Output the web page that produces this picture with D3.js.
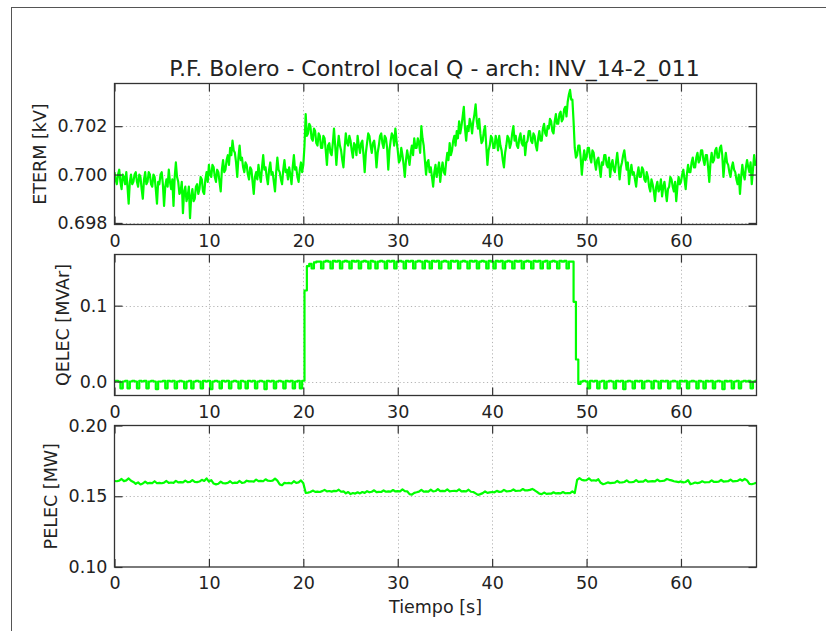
<!DOCTYPE html>
<html>
<head>
<meta charset="utf-8">
<script src="https://cdn.jsdelivr.net/npm/d3@7"></script>
<style>
  body { margin: 0; background: #ffffff; }
  svg { display: block; }
</style>
</head>
<body>
<svg id="fig" width="826" height="631"></svg>
<script>
// ---- Recorded signals, t = 0 … 68 s ----
const etermStep = 0.125; // seconds between ETERM samples
const powerStep = 0.25;  // seconds between QELEC / PELEC samples

// Terminal voltage [kV]
const eterm = [
  0.7001, 0.6998, 0.6996, 0.7000, 0.7002, 0.6997, 0.6994, 0.7000,
  0.6999, 0.6996, 0.7001, 0.6995, 0.6988, 0.6997, 0.7000, 0.6996,
  0.6997, 0.7000, 0.7001, 0.6997, 0.6995, 0.7000, 0.6999, 0.6994,
  0.6990, 0.6998, 0.7001, 0.6996, 0.6997, 0.7001, 0.7000, 0.6996,
  0.6995, 0.7000, 0.6999, 0.6994, 0.6988, 0.6997, 0.6996, 0.7000,
  0.7001, 0.6996, 0.6987, 0.6995, 0.6998, 0.6995, 0.7002, 0.6997,
  0.6994, 0.6998, 0.6987, 0.6999, 0.7005, 0.6999, 0.6997, 0.6992,
  0.6993, 0.6997, 0.6984, 0.6993, 0.6995, 0.6989, 0.6991, 0.6995,
  0.6982, 0.6991, 0.6994, 0.6989, 0.6990, 0.6995, 0.6996, 0.6992,
  0.6994, 0.6999, 0.6998, 0.6993, 0.6992, 0.6998, 0.7001, 0.6997,
  0.7004, 0.7000, 0.6999, 0.7004, 0.7003, 0.6999, 0.6997, 0.7002,
  0.7001, 0.6997, 0.6993, 0.7002, 0.7006, 0.7001, 0.7002, 0.7006,
  0.7008, 0.7004, 0.7011, 0.7008, 0.7014, 0.7010, 0.7009, 0.7005,
  0.6999, 0.7007, 0.7012, 0.7006, 0.7007, 0.7003, 0.7001, 0.7005,
  0.7004, 0.7000, 0.6998, 0.7003, 0.7002, 0.6997, 0.6992, 0.6999,
  0.7001, 0.6998, 0.7004, 0.7000, 0.6997, 0.7003, 0.7008, 0.7002,
  0.7003, 0.6999, 0.6996, 0.7002, 0.7005, 0.7000, 0.7001, 0.6997,
  0.6993, 0.7001, 0.7007, 0.7002, 0.7001, 0.6998, 0.6996, 0.7002,
  0.7006, 0.7001, 0.7002, 0.6998, 0.7003, 0.7000, 0.6996, 0.7003,
  0.7008, 0.7002, 0.7003, 0.6999, 0.6997, 0.7002, 0.7005, 0.7001,
  0.7004, 0.7012, 0.7025, 0.7016, 0.7017, 0.7021, 0.7020, 0.7015,
  0.7014, 0.7019, 0.7018, 0.7013, 0.7012, 0.7017, 0.7016, 0.7011,
  0.7011, 0.7016, 0.7015, 0.7010, 0.7004, 0.7012, 0.7013, 0.7009,
  0.7008, 0.7013, 0.7019, 0.7012, 0.7004, 0.7011, 0.7016, 0.7012,
  0.7010, 0.7006, 0.7003, 0.7011, 0.7017, 0.7013, 0.7012, 0.7016,
  0.7014, 0.7010, 0.7007, 0.7013, 0.7012, 0.7008, 0.7016, 0.7012,
  0.7009, 0.7013, 0.7014, 0.7008, 0.7001, 0.7009, 0.7013, 0.7017,
  0.7016, 0.7012, 0.7009, 0.7013, 0.7014, 0.7010, 0.7003, 0.7009,
  0.7012, 0.7016, 0.7017, 0.7013, 0.7011, 0.7016, 0.7015, 0.7011,
  0.7002, 0.7010, 0.7014, 0.7017, 0.7016, 0.7012, 0.7019, 0.7014,
  0.7010, 0.7005, 0.7006, 0.7011, 0.7008, 0.7004, 0.6999, 0.7006,
  0.7010, 0.7007, 0.7004, 0.7009, 0.7012, 0.7008, 0.7015, 0.7011,
  0.7011, 0.7015, 0.7013, 0.7009, 0.7020, 0.7015, 0.7012, 0.7006,
  0.7000, 0.7005, 0.7006, 0.7001, 0.7003, 0.6999, 0.6995, 0.7001,
  0.7004, 0.6999, 0.7002, 0.7005, 0.6997, 0.7002, 0.7005, 0.7001,
  0.7000, 0.7005, 0.7009, 0.7006, 0.7013, 0.7008, 0.7010, 0.7014,
  0.7016, 0.7012, 0.7018, 0.7015, 0.7022, 0.7017, 0.7020, 0.7024,
  0.7028, 0.7019, 0.7014, 0.7020, 0.7018, 0.7023, 0.7021, 0.7017,
  0.7022, 0.7025, 0.7029, 0.7022, 0.7019, 0.7023, 0.7017, 0.7013,
  0.7014, 0.7018, 0.7020, 0.7012, 0.7004, 0.7010, 0.7012, 0.7016,
  0.7015, 0.7011, 0.7011, 0.7016, 0.7014, 0.7010, 0.7016, 0.7012,
  0.7010, 0.7006, 0.7003, 0.7009, 0.7012, 0.7016, 0.7015, 0.7011,
  0.7013, 0.7017, 0.7020, 0.7014, 0.7016, 0.7012, 0.7011, 0.7015,
  0.7017, 0.7013, 0.7012, 0.7016, 0.7008, 0.7013, 0.7014, 0.7018,
  0.7018, 0.7014, 0.7013, 0.7017, 0.7016, 0.7012, 0.7010, 0.7015,
  0.7018, 0.7014, 0.7014, 0.7019, 0.7021, 0.7017, 0.7016, 0.7020,
  0.7019, 0.7023, 0.7022, 0.7018, 0.7017, 0.7022, 0.7025, 0.7021,
  0.7021, 0.7025, 0.7026, 0.7022, 0.7023, 0.7027, 0.7028, 0.7024,
  0.7030, 0.7033, 0.7035, 0.7031, 0.7031, 0.7022, 0.7011, 0.7007,
  0.7008, 0.7012, 0.7012, 0.7007, 0.7000, 0.7006, 0.7010, 0.7006,
  0.7007, 0.7011, 0.7011, 0.7007, 0.7005, 0.7010, 0.7009, 0.7005,
  0.7002, 0.7006, 0.7007, 0.7003, 0.6999, 0.7005, 0.7004, 0.7008,
  0.7008, 0.7004, 0.7003, 0.7007, 0.6999, 0.7004, 0.7006, 0.7002,
  0.7001, 0.7005, 0.7009, 0.7004, 0.6998, 0.7003, 0.7005, 0.7008,
  0.7010, 0.7006, 0.7002, 0.7005, 0.6996, 0.7001, 0.7004, 0.7000,
  0.7001, 0.6998, 0.6995, 0.7000, 0.7003, 0.6999, 0.6999, 0.7003,
  0.7002, 0.6998, 0.6997, 0.7001, 0.6999, 0.6995, 0.6993, 0.6998,
  0.6996, 0.6993, 0.6989, 0.6995, 0.6997, 0.6993, 0.6994, 0.6998,
  0.6991, 0.6995, 0.6997, 0.6993, 0.6989, 0.6994, 0.6995, 0.6999,
  0.6998, 0.6995, 0.6993, 0.6997, 0.6989, 0.6995, 0.6999, 0.6996,
  0.6997, 0.7000, 0.7002, 0.6998, 0.6994, 0.7000, 0.7004, 0.7001,
  0.7001, 0.7005, 0.7007, 0.7003, 0.7003, 0.7007, 0.7009, 0.7005,
  0.7006, 0.7010, 0.7010, 0.7006, 0.7004, 0.7008, 0.7008, 0.7003,
  0.6997, 0.7005, 0.7009, 0.7005, 0.7006, 0.7010, 0.7011, 0.7007,
  0.7007, 0.7011, 0.7012, 0.7008, 0.6999, 0.7005, 0.7009, 0.7005,
  0.7004, 0.7001, 0.6999, 0.7003, 0.7005, 0.7002, 0.7001, 0.6998,
  0.6996, 0.7000, 0.6992, 0.6999, 0.7004, 0.7000, 0.6998, 0.7003,
  0.7006, 0.7003, 0.7001, 0.7005, 0.6996, 0.7002, 0.7008, 0.7004,
  0.7005
];

// Reactive power [MVAr]
const qelec = [
  0.000, 0.001, 0.000, -0.009,
  0.000, 0.001, -0.009, 0.000,
  0.001, 0.000, -0.009, 0.001,
  0.000, 0.001, -0.009, 0.000,
  0.001, 0.000, -0.010, 0.000,
  0.000, 0.001, -0.009, 0.001,
  0.000, 0.001, -0.009, 0.000,
  0.001, 0.000, -0.009, 0.000,
  0.001, -0.009, 0.000, 0.001,
  0.000, -0.009, 0.001, 0.000,
  0.001, -0.010, 0.000, 0.001,
  0.000, -0.009, 0.001, 0.000,
  0.001, -0.009, 0.000, 0.001,
  0.000, -0.009, 0.001, 0.000,
  -0.009, 0.001, 0.000, 0.001,
  -0.009, 0.000, 0.001, 0.000,
  -0.010, 0.001, 0.000, 0.001,
  -0.009, 0.000, 0.001, 0.000,
  -0.009, 0.001, 0.000, 0.001,
  -0.009, 0.000, 0.001, -0.009,
  0.001, 0.120, 0.152, 0.155,
  0.149, 0.157, 0.158, 0.158,
  0.149, 0.158, 0.159, 0.158,
  0.149, 0.159, 0.158, 0.159,
  0.149, 0.158, 0.159, 0.158,
  0.149, 0.159, 0.158, 0.159,
  0.149, 0.158, 0.159, 0.158,
  0.149, 0.159, 0.158, 0.149,
  0.158, 0.159, 0.158, 0.149,
  0.159, 0.158, 0.159, 0.149,
  0.158, 0.159, 0.158, 0.149,
  0.159, 0.158, 0.159, 0.149,
  0.158, 0.159, 0.158, 0.149,
  0.159, 0.158, 0.149, 0.159,
  0.158, 0.159, 0.149, 0.158,
  0.159, 0.158, 0.149, 0.159,
  0.158, 0.159, 0.149, 0.158,
  0.159, 0.158, 0.149, 0.159,
  0.158, 0.159, 0.149, 0.158,
  0.159, 0.158, 0.149, 0.159,
  0.158, 0.149, 0.159, 0.158,
  0.159, 0.149, 0.158, 0.159,
  0.158, 0.149, 0.159, 0.158,
  0.159, 0.149, 0.158, 0.159,
  0.158, 0.149, 0.159, 0.158,
  0.159, 0.149, 0.158, 0.159,
  0.149, 0.158, 0.159, 0.158,
  0.149, 0.159, 0.158, 0.159,
  0.149, 0.158, 0.158, 0.105,
  0.029, -0.003, 0.000, 0.001,
  0.000, -0.009, 0.001, 0.000,
  0.001, -0.009, 0.000, 0.001,
  -0.009, 0.000, 0.001, 0.000,
  -0.009, 0.001, 0.000, 0.001,
  -0.010, 0.000, 0.001, 0.000,
  -0.009, 0.001, 0.000, 0.001,
  -0.009, 0.000, 0.001, 0.000,
  -0.009, 0.001, 0.000, -0.009,
  0.001, 0.000, 0.001, -0.009,
  0.000, 0.001, 0.000, -0.009,
  0.001, 0.000, 0.001, -0.009,
  0.000, 0.001, 0.000, -0.009,
  0.001, 0.000, -0.009, 0.001,
  0.000, 0.001, -0.009, 0.000,
  0.001, 0.000, -0.010, 0.001,
  0.000, 0.001, -0.009, 0.000,
  0.001, -0.009, 0.000, 0.001,
  0.000, 0.001, -0.009, 0.000,
  0.001
];

// Active power [MW]
const pelec = [
  0.1608, 0.1606, 0.1610, 0.1622,
  0.1607, 0.1612, 0.1626, 0.1610,
  0.1601, 0.1588, 0.1598, 0.1583,
  0.1590, 0.1604, 0.1591, 0.1594,
  0.1593, 0.1606, 0.1592, 0.1595,
  0.1592, 0.1596, 0.1608, 0.1594,
  0.1597, 0.1595, 0.1609, 0.1598,
  0.1600, 0.1598, 0.1611, 0.1600,
  0.1601, 0.1614, 0.1602, 0.1600,
  0.1604, 0.1616, 0.1608, 0.1626,
  0.1603, 0.1614, 0.1590, 0.1584,
  0.1588, 0.1603, 0.1592, 0.1591,
  0.1594, 0.1606, 0.1592, 0.1596,
  0.1595, 0.1608, 0.1594, 0.1597,
  0.1610, 0.1605, 0.1606, 0.1603,
  0.1618, 0.1607, 0.1609, 0.1606,
  0.1620, 0.1610, 0.1608, 0.1611,
  0.1625, 0.1610, 0.1584, 0.1578,
  0.1595, 0.1592, 0.1594, 0.1590,
  0.1606, 0.1595, 0.1598, 0.1612,
  0.1592, 0.1524, 0.1526, 0.1530,
  0.1540, 0.1531, 0.1533, 0.1530,
  0.1536, 0.1545, 0.1534, 0.1537,
  0.1533, 0.1538, 0.1536, 0.1546,
  0.1532, 0.1535, 0.1520, 0.1530,
  0.1515, 0.1523, 0.1519, 0.1528,
  0.1520, 0.1530, 0.1524, 0.1536,
  0.1528, 0.1532, 0.1542, 0.1529,
  0.1531, 0.1530, 0.1541, 0.1532,
  0.1535, 0.1533, 0.1544, 0.1534,
  0.1536, 0.1535, 0.1548, 0.1536,
  0.1535, 0.1515, 0.1512, 0.1524,
  0.1528, 0.1533, 0.1545, 0.1532,
  0.1534, 0.1533, 0.1546, 0.1535,
  0.1537, 0.1550, 0.1536, 0.1538,
  0.1536, 0.1548, 0.1535, 0.1537,
  0.1538, 0.1536, 0.1549, 0.1535,
  0.1536, 0.1535, 0.1546, 0.1532,
  0.1530, 0.1520, 0.1510, 0.1515,
  0.1522, 0.1534, 0.1524, 0.1527,
  0.1530, 0.1528, 0.1538, 0.1531,
  0.1533, 0.1545, 0.1535, 0.1536,
  0.1538, 0.1548, 0.1537, 0.1539,
  0.1540, 0.1551, 0.1541, 0.1542,
  0.1545, 0.1552, 0.1542, 0.1531,
  0.1518, 0.1515, 0.1526, 0.1517,
  0.1519, 0.1518, 0.1528, 0.1520,
  0.1522, 0.1520, 0.1530, 0.1521,
  0.1523, 0.1522, 0.1535, 0.1522,
  0.1615, 0.1628, 0.1616, 0.1612,
  0.1614, 0.1626, 0.1611, 0.1613,
  0.1610, 0.1620, 0.1595, 0.1585,
  0.1590, 0.1598, 0.1593, 0.1595,
  0.1596, 0.1608, 0.1597, 0.1598,
  0.1601, 0.1612, 0.1600, 0.1599,
  0.1602, 0.1614, 0.1601, 0.1603,
  0.1604, 0.1616, 0.1603, 0.1605,
  0.1607, 0.1605, 0.1618, 0.1606,
  0.1608, 0.1610, 0.1622, 0.1616,
  0.1612, 0.1606, 0.1603, 0.1600,
  0.1605, 0.1598, 0.1601, 0.1614,
  0.1586, 0.1590, 0.1597, 0.1593,
  0.1596, 0.1606, 0.1598, 0.1599,
  0.1600, 0.1612, 0.1601, 0.1602,
  0.1603, 0.1615, 0.1604, 0.1605,
  0.1606, 0.1618, 0.1605, 0.1607,
  0.1608, 0.1620, 0.1610, 0.1622,
  0.1612, 0.1588, 0.1585, 0.1590,
  0.1596
];

// ---- Axis ticks and labels ----
const timeDomain = [0, 68];
const timeTicks = [0, 10, 20, 30, 40, 50, 60];
const etermTicks = [0.698, 0.700, 0.702];
const qelecTicks = [0.0, 0.1];
const pelecTicks = [0.10, 0.15, 0.20];
const pelecDomain = [0.10, 0.20];
const chartTitle = "P.F. Bolero - Control local Q - arch: INV_14-2_011";
const timeLabel = "Tiempo [s]";

// ---- Layout ----
const FONT = "'DejaVu Sans', sans-serif";
const TICK_FS = 17.5;
const plotLeft = 114.5, plotRight = 756.5;

// Autoscale with a 5% margin on both ends
function padded(values) {
  const [lo, hi] = d3.extent(values);
  const m = (hi - lo) * 0.05;
  return [lo - m, hi + m];
}

const panels = [
  { id: "eterm", values: eterm, step: etermStep, curve: d3.curveLinear,
    ticks: etermTicks, fmt: d3.format(".3f"), domain: padded(eterm),
    label: "ETERM [kV]", labelX: 40, top: 83.5, bottom: 224.5 },
  { id: "qelec", values: qelec, step: powerStep, curve: d3.curveStep,
    ticks: qelecTicks, fmt: d3.format(".1f"), domain: padded(qelec),
    label: "QELEC [MVAr]", labelX: 63, top: 254.5, bottom: 395.5 },
  { id: "pelec", values: pelec, step: powerStep, curve: d3.curveLinear,
    ticks: pelecTicks, fmt: d3.format(".2f"), domain: pelecDomain,
    label: "PELEC [MW]", labelX: 51, top: 425.5, bottom: 567 }
];

const svg = d3.select("#fig");

// Window frame around the figure
svg.append("rect")
  .attr("x", 11.5).attr("y", 7.5)
  .attr("width", 900).attr("height", 700)
  .attr("fill", "none").attr("stroke", "#555").attr("stroke-width", 1);

const x = d3.scaleLinear().domain(timeDomain).range([plotLeft, plotRight]);

// Title
svg.append("text")
  .attr("x", (plotLeft + plotRight) / 2 - 1).attr("y", 76)
  .attr("text-anchor", "middle")
  .attr("font-family", FONT).attr("font-size", 22)
  .attr("fill", "#222")
  .text(chartTitle);

function styleAxis(g, withLabels) {
  g.select(".domain").remove();
  g.selectAll(".tick line").attr("stroke", "#333").attr("stroke-width", 1.2);
  g.attr("font-family", FONT).attr("font-size", TICK_FS);
  g.selectAll(".tick text").attr("fill", "#222");
  if (!withLabels) g.selectAll(".tick text").remove();
}

panels.forEach(p => {
  const y = d3.scaleLinear().domain(p.domain).range([p.bottom, p.top]);
  const g = svg.append("g").attr("class", "panel-" + p.id);

  // clip region for the trace
  g.append("clipPath").attr("id", "clip-" + p.id)
    .append("rect")
    .attr("x", plotLeft).attr("y", p.top)
    .attr("width", plotRight - plotLeft).attr("height", p.bottom - p.top);

  // dotted grid
  const grid = g.append("g").attr("stroke", "#b4b4b4").attr("stroke-width", 1)
    .attr("stroke-dasharray", "1.2,2.6");
  grid.selectAll("line.v").data(timeTicks.filter(d => d > timeDomain[0] && d < timeDomain[1]))
    .join("line").attr("class", "v")
    .attr("x1", d => Math.round(x(d)) + 0.5).attr("x2", d => Math.round(x(d)) + 0.5)
    .attr("y1", p.top).attr("y2", p.bottom);
  grid.selectAll("line.h").data(p.ticks.filter(d => y(d) < p.bottom - 1 && y(d) > p.top + 1))
    .join("line").attr("class", "h")
    .attr("y1", d => Math.round(y(d)) + 0.5).attr("y2", d => Math.round(y(d)) + 0.5)
    .attr("x1", plotLeft).attr("x2", plotRight);

  // trace
  const line = d3.line()
    .curve(p.curve)
    .x((d, i) => x(i * p.step))
    .y(d => y(d));
  g.append("path")
    .datum(p.values)
    .attr("clip-path", `url(#clip-${p.id})`)
    .attr("fill", "none")
    .attr("stroke", "#00ff00")
    .attr("stroke-width", 2.2)
    .attr("stroke-linejoin", "round")
    .attr("d", line);

  // inward ticks on all four sides
  const tickLen = 8;
  g.append("g").attr("transform", `translate(${plotLeft},0)`)
    .call(d3.axisLeft(y).tickValues(p.ticks).tickFormat(p.fmt)
      .tickSizeInner(-tickLen).tickSizeOuter(0).tickPadding(7))
    .call(a => styleAxis(a, true));
  g.append("g").attr("transform", `translate(${plotRight},0)`)
    .call(d3.axisRight(y).tickValues(p.ticks)
      .tickSizeInner(-tickLen).tickSizeOuter(0))
    .call(a => styleAxis(a, false));
  g.append("g").attr("transform", `translate(0,${p.bottom})`)
    .call(d3.axisBottom(x).tickValues(timeTicks).tickFormat(d3.format("d"))
      .tickSizeInner(-tickLen).tickSizeOuter(0).tickPadding(10))
    .call(a => styleAxis(a, true));
  g.append("g").attr("transform", `translate(0,${p.top})`)
    .call(d3.axisTop(x).tickValues(timeTicks)
      .tickSizeInner(-tickLen).tickSizeOuter(0))
    .call(a => styleAxis(a, false));

  // frame
  g.append("rect")
    .attr("x", plotLeft).attr("y", p.top)
    .attr("width", plotRight - plotLeft).attr("height", p.bottom - p.top)
    .attr("fill", "none").attr("stroke", "#333").attr("stroke-width", 1.3);

  // y label
  g.append("text")
    .attr("transform", `translate(${p.labelX},${(p.top + p.bottom) / 2}) rotate(-90)`)
    .attr("dy", "0.35em")
    .attr("text-anchor", "middle")
    .attr("font-family", FONT).attr("font-size", TICK_FS)
    .attr("fill", "#222")
    .text(p.label);
});

// x label
svg.append("text")
  .attr("x", (plotLeft + plotRight) / 2).attr("y", 613)
  .attr("text-anchor", "middle")
  .attr("font-family", FONT).attr("font-size", TICK_FS)
  .attr("fill", "#222")
  .text(timeLabel);
</script>
</body>
</html>
